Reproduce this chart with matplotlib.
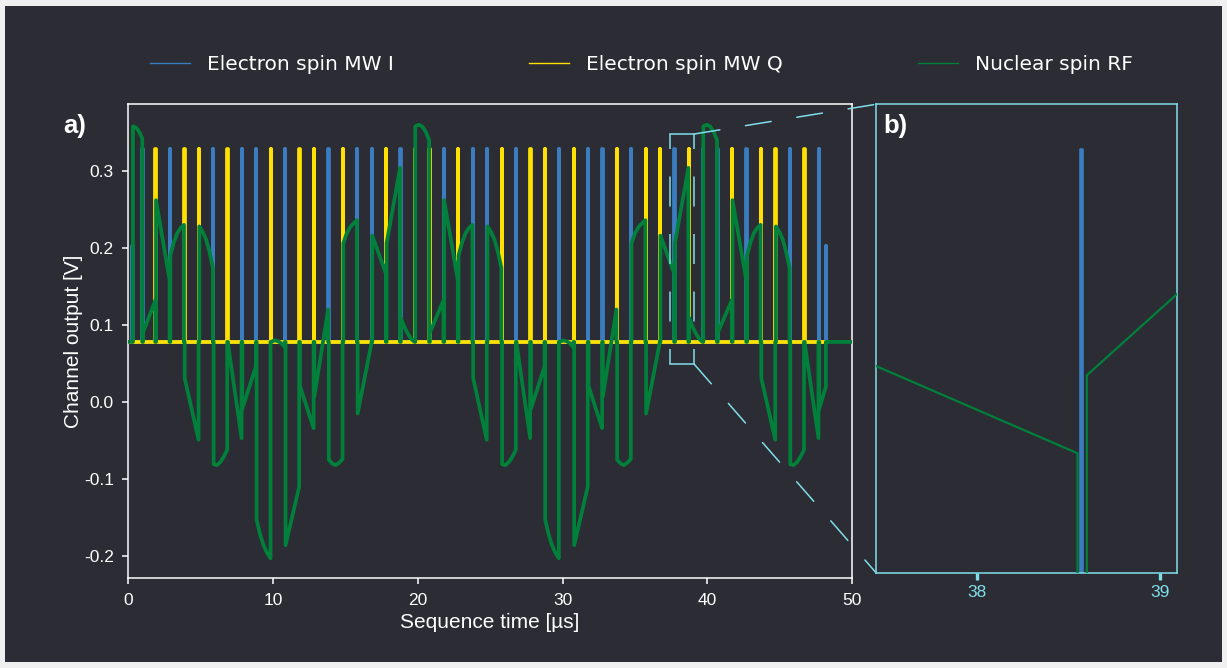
import numpy as np
import matplotlib
matplotlib.use("Agg")
import matplotlib.pyplot as plt
from matplotlib.lines import Line2D
from matplotlib.patches import ConnectionPatch, Rectangle
from matplotlib.ticker import FormatStrFormatter

plt.rcParams['font.family'] = ['Liberation Sans', 'DejaVu Sans']
plt.rcParams['axes.unicode_minus'] = False
plt.rcParams['lines.scale_dashes'] = False

# 색 / colours
bg = '#2b2c34'
c_i = '#3a7dc1'
c_q = '#ffe000'
c_rf = '#00803a'
c_zoom = '#80deea'

# ---- data ----
baseline = 0.078
pulse_amp = 0.328
half_amp = 0.203

# MW I (blue) full pulses, and the two short ones at start / end
mw_i_t = [0.99, 2.88, 5.87, 7.85, 8.84, 10.84, 13.83, 15.82, 16.83, 18.80,
          21.80, 23.80, 24.79, 26.80, 29.77, 31.77, 32.76, 34.74, 37.74, 39.70,
          40.70, 42.72, 45.71, 47.71]
mw_i_half_t = [0.28, 48.22]
# MW Q (yellow) pulses
mw_q_t = [1.89, 3.87, 4.88, 6.86, 9.85, 11.83, 12.83, 14.83, 17.82, 19.80,
          20.81, 22.79, 25.80, 27.79, 28.78, 30.78, 33.75, 35.75, 36.74, 38.72,
          41.72, 43.71, 44.72, 46.71]

rf_on = 0.32      # RF starts
rf_off = 48.22    # RF ends
# RF levels between consecutive edges (evenly spaced samples inside each gap)
rf_levels = [
    [0.358, 0.357, 0.354, 0.349, 0.342],
    [0.090, 0.132],
    [0.262, 0.158],
    [0.190, 0.207, 0.219, 0.226, 0.230],
    [0.031, -0.049],
    [0.228, 0.221, 0.211, 0.195, 0.174],
    [-0.081, -0.082, -0.078, -0.071, -0.062],
    [0.076, -0.047],
    [-0.009, 0.046],
    [-0.153, -0.172, -0.186, -0.196, -0.203],
    [0.078, 0.080, 0.079, 0.076, 0.071],
    [-0.186, -0.110],
    [0.021, -0.034],
    [0.007, 0.120],
    [-0.075, -0.080, -0.082, -0.079, -0.074],
    [0.206, 0.219, 0.227, 0.232, 0.236],
    [-0.015, 0.077],
    [0.216, 0.167],
    [0.206, 0.304],
    [0.109, 0.098, 0.089, 0.082, 0.078],
    [0.358, 0.360, 0.358, 0.351, 0.340],
    [0.090, 0.132],
    [0.262, 0.158],
    [0.190, 0.207, 0.219, 0.226, 0.230],
    [0.031, -0.049],
    [0.228, 0.221, 0.211, 0.195, 0.174],
    [-0.081, -0.082, -0.078, -0.071, -0.062],
    [0.076, -0.047],
    [-0.009, 0.046],
    [-0.153, -0.172, -0.186, -0.196, -0.203],
    [0.078, 0.080, 0.079, 0.076, 0.071],
    [-0.186, -0.110],
    [0.021, -0.034],
    [0.007, 0.120],
    [-0.075, -0.080, -0.082, -0.079, -0.074],
    [0.206, 0.219, 0.227, 0.232, 0.236],
    [-0.015, 0.077],
    [0.216, 0.167],
    [0.206, 0.304],
    [0.109, 0.098, 0.089, 0.082, 0.078],
    [0.358, 0.360, 0.358, 0.351, 0.340],
    [0.090, 0.132],
    [0.262, 0.158],
    [0.190, 0.207, 0.219, 0.226, 0.230],
    [0.031, -0.049],
    [0.228, 0.221, 0.211, 0.195, 0.174],
    [-0.081, -0.082, -0.078, -0.071, -0.062],
    [0.076, -0.047],
    [-0.009, 0.020],
]

# zoomed window b)
zoom_x = (37.45, 39.09)
zoom_y = (0.09, 0.35)
rect_x = (37.40, 39.10)
rect_y = (0.049, 0.348)
ins_i_t = [37.45, 38.562, 38.562, 38.574, 38.574, 39.09]
ins_i_v = [baseline, baseline, 0.325, 0.325, baseline, baseline]
ins_rf_t = [37.45, 38.549, 38.549, 38.600, 38.600, 39.09]
ins_rf_v = [0.2047, 0.1563, baseline, baseline, 0.1996, 0.2445]


def pulse_trace(times, amps, t_end, w=0.03):
    xs, ys = [0.0], [baseline]
    for t, a in sorted(zip(times, amps)):
        xs += [t - w / 2, t - w / 2, t + w / 2, t + w / 2]
        ys += [baseline, a, a, baseline]
    xs.append(t_end)
    ys.append(baseline)
    return xs, ys


i_times = mw_i_t + mw_i_half_t
i_amps = [pulse_amp] * len(mw_i_t) + [half_amp] * len(mw_i_half_t)
ix, iy = pulse_trace(i_times, i_amps, 48.3)
qx, qy = pulse_trace(mw_q_t, [pulse_amp] * len(mw_q_t), 48.15)

edges = [rf_on] + sorted(mw_i_t + mw_q_t) + [rf_off]
g = 0.025
rx, ry = [0.0, rf_on], [baseline, baseline]
for k, lev in enumerate(rf_levels):
    t0 = edges[k] + (0 if k == 0 else g)
    t1 = edges[k + 1] - g
    tt = np.linspace(t0, t1, len(lev))
    rx += [t0] + list(tt) + [t1]
    ry += [baseline] + lev + [baseline]
rx.append(50.0)
ry.append(baseline)

# ---- figure ----
W, H = 1227, 668
fig = plt.figure(figsize=(W / 100, H / 100), dpi=100, facecolor='#f0f0f0')
fig.patches.append(Rectangle((5 / W, 6 / H), 1217 / W, 656 / H,
                             transform=fig.transFigure, facecolor=bg,
                             edgecolor='none', zorder=-10))

ax = fig.add_axes([128.3 / W, (H - 578.3) / H, 723.7 / W, 474 / H])
axins = fig.add_axes([876 / W, (H - 572.7) / H, 300.7 / W, 468.4 / H])

for a in (ax, axins):
    a.set_facecolor(bg)

ax.plot(ix, iy, color=c_i, lw=2.7, zorder=2)
ax.plot(qx, qy, color=c_q, lw=2.7, zorder=3)
ax.plot(rx, ry, color=c_rf, lw=2.7, zorder=4)

ax.set_xlim(0, 50)
ax.set_ylim(-0.229, 0.3866)
ax.set_xticks([0, 10, 20, 30, 40, 50])
ax.set_yticks([-0.2, -0.1, 0.0, 0.1, 0.2, 0.3])
ax.yaxis.set_major_formatter(FormatStrFormatter('%.1f'))
ax.tick_params(colors='white', labelsize=12.5, length=4.3, width=1.1, pad=6)
for s in ax.spines.values():
    s.set_color('white')
    s.set_linewidth(1.1)
ax.set_xlabel('Sequence time [µs]', color='white', fontsize=15, labelpad=4)
ax.set_ylabel('Channel output [V]', color='white', fontsize=15, labelpad=1)
ax.text(-0.09, 0.954, 'a)', transform=ax.transAxes, fontsize=18.5,
        weight='bold', color='white', ha='left', va='center')

# zoom rectangle in a)
dash_side = (10.8, (21.6, 19.8))
ax.plot([rect_x[0], rect_x[0]], [rect_y[1], rect_y[0]], color=c_zoom, lw=1.1,
        ls=dash_side, zorder=6)
ax.plot([rect_x[1], rect_x[1]], [rect_y[1], rect_y[0]], color=c_zoom, lw=1.1,
        ls=dash_side, zorder=6)
ax.plot(rect_x, [rect_y[1], rect_y[1]], color=c_zoom, lw=1.1, zorder=6)
ax.plot(rect_x, [rect_y[0], rect_y[0]], color=c_zoom, lw=1.1, zorder=6)

# inset b)
axins.plot(ins_i_t, ins_i_v, color=c_i, lw=1.9, zorder=2)
axins.plot(ins_rf_t, ins_rf_v, color=c_rf, lw=1.6, zorder=3)
axins.set_xlim(*zoom_x)
axins.set_ylim(*zoom_y)
axins.set_xticks([38, 39])
axins.set_yticks([])
axins.tick_params(axis='x', colors=c_zoom, labelsize=12.5, length=5, width=2.4)
for s in axins.spines.values():
    s.set_color(c_zoom)
    s.set_linewidth(1.1)
axins.text(0.024, 0.954, 'b)', transform=axins.transAxes, fontsize=18.5,
           weight='bold', color='white', ha='left', va='center')

for ya, yb in ((rect_y[1], 1), (rect_y[0], 0)):
    con = ConnectionPatch(xyA=(rect_x[1], ya), coordsA=ax.transData,
                          xyB=(0, yb), coordsB=axins.transAxes,
                          color=c_zoom, lw=1.1, ls=(0, (18.7, 18.7)))
    fig.add_artist(con)

handles = [Line2D([0], [0], color=c_i, lw=1),
           Line2D([0], [0], color=c_q, lw=1),
           Line2D([0], [0], color=c_rf, lw=1)]
labels = ['Electron spin MW I', 'Electron spin MW Q', 'Nuclear spin RF']
fig.legend(handles, labels, loc='center', bbox_to_anchor=(0.5228, 0.9027),
           ncol=3, frameon=False, prop={'family': 'DejaVu Sans', 'size': 14.5},
           labelcolor='white', handlelength=2.0, handletextpad=0.85,
           columnspacing=6.7)

fig.savefig('out.png', dpi=100, facecolor=fig.get_facecolor())
